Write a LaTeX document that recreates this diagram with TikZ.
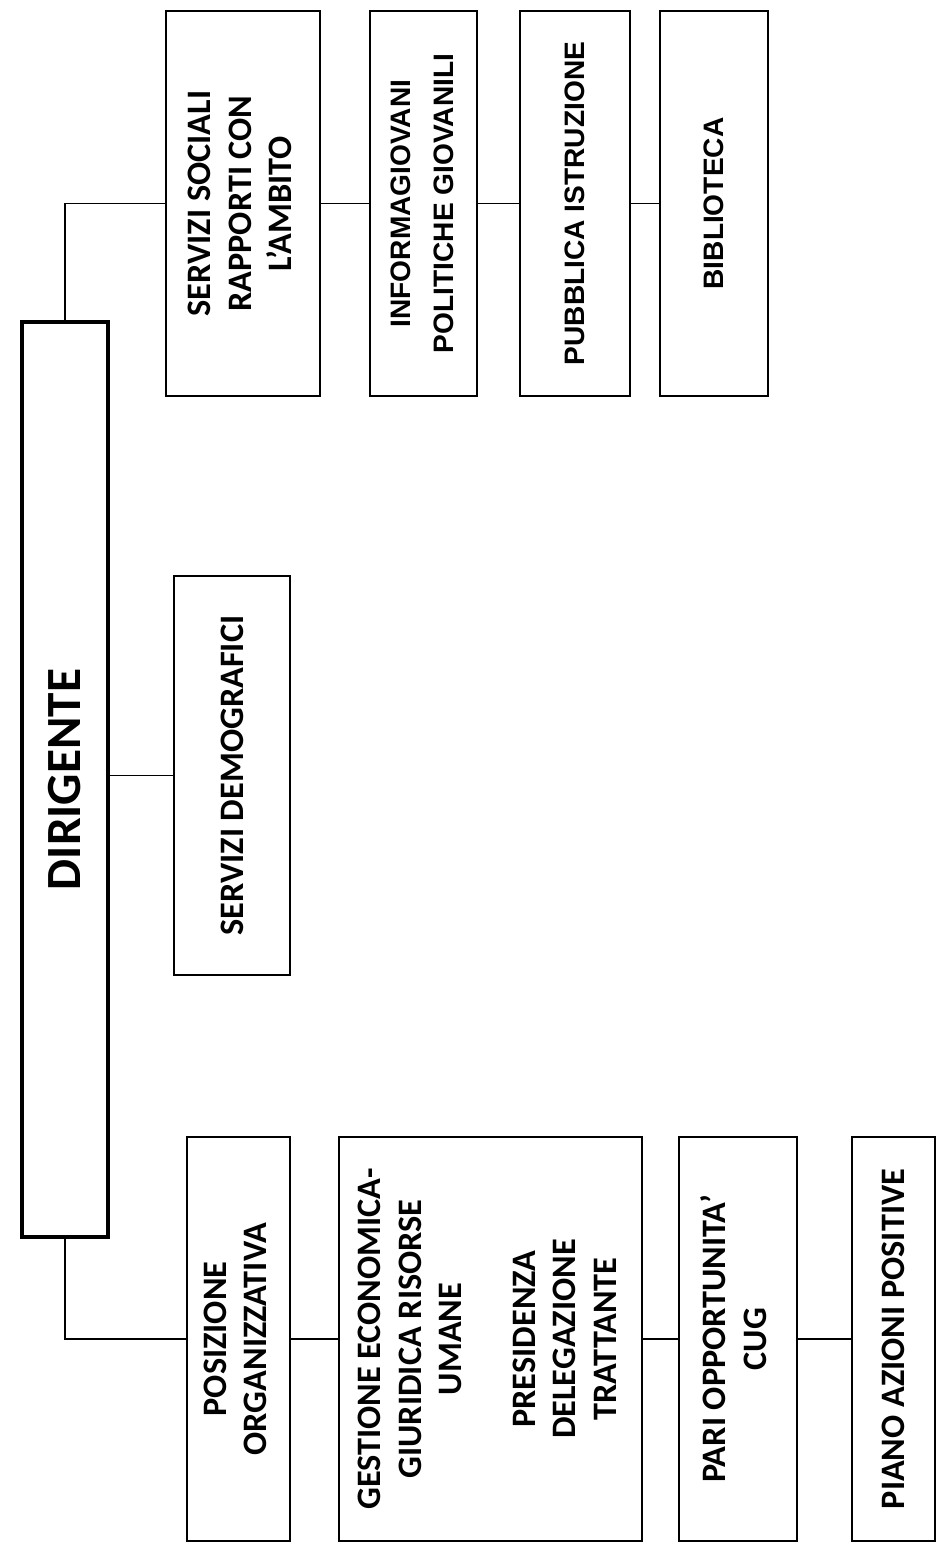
\documentclass[tikz,border=0pt]{standalone}
\usepackage{fontspec}
\setmainfont{Carlito}
\newfontfamily\arialfont{Liberation Sans}
\usepackage{graphicx}

\begin{document}
\begin{tikzpicture}[x=0.02cm, y=-0.02cm,
boxnode/.style={rectangle, draw=black, line width=1pt, inner sep=0pt, font=\fontsize{19.5}{23}\selectfont\bfseries},
arialnode/.style={boxnode, font=\arialfont\fontsize{16}{24}\selectfont\bfseries},
thickboxnode/.style={rectangle, draw=black, line width=2.5pt, inner sep=0pt, font=\fontsize{28}{32}\selectfont\bfseries},
link/.style={draw=black, line width=0.8pt},
]
\useasboundingbox (0,0) rectangle (938,1546);

\node[thickboxnode, minimum width=1.72cm, minimum height=18.3cm] (dirigente) at (65,779.5) {\rotatebox{90}{DIRIGENTE}};

\node[boxnode, minimum width=3.08cm, minimum height=7.7cm] (servizisociali) at (243,203.5) {\rotatebox{90}{\begin{tabular}{@{}c@{}}SERVIZI SOCIALI\\RAPPORTI CON\\L’AMBITO\end{tabular}}};
\node[arialnode, minimum width=2.14cm, minimum height=7.7cm] (informagiovani) at (423.5,203.5) {\rotatebox{90}{\begin{tabular}{@{}c@{}}INFORMAGIOVANI\\POLITICHE GIOVANILI\end{tabular}}};
\node[arialnode, minimum width=2.2cm, minimum height=7.7cm] (istruzione) at (575,203.5) {\rotatebox{90}{PUBBLICA ISTRUZIONE}};
\node[arialnode, minimum width=2.16cm, minimum height=7.7cm] (biblioteca) at (714,203.5) {\rotatebox{90}{BIBLIOTECA}};

\node[boxnode, minimum width=2.32cm, minimum height=7.98cm] (demografici) at (232,775.5) {\rotatebox{90}{SERVIZI DEMOGRAFICI}};

\node[boxnode, minimum width=2.06cm, minimum height=8.08cm] (posizione) at (238.5,1339) {\rotatebox{90}{\begin{tabular}{@{}c@{}}POSIZIONE\\ORGANIZZATIVA\end{tabular}}};
\node[boxnode, minimum width=6.06cm, minimum height=8.08cm] (gestione) at (490.5,1339) {\rotatebox{90}{\begin{tabular}{@{}c@{}}GESTIONE ECONOMICA-\\GIURIDICA RISORSE\\UMANE\\[19pt]PRESIDENZA\\DELEGAZIONE\\TRATTANTE\end{tabular}}};
\node[boxnode, minimum width=2.36cm, minimum height=8.08cm] (pari) at (738,1339) {\rotatebox{90}{\begin{tabular}{@{}c@{}}PARI OPPORTUNITA’\\CUG\end{tabular}}};
\node[boxnode, minimum width=1.66cm, minimum height=8.08cm] (piano) at (893.5,1339) {\rotatebox{90}{PIANO AZIONI POSITIVE}};

%Lines
\draw[link] (dirigente.north) |- (servizisociali.west);
\draw[link] (servizisociali.east) -- (informagiovani.west);
\draw[link] (informagiovani.east) -- (istruzione.west);
\draw[link] (istruzione.east) -- (biblioteca.west);
\draw[link] (dirigente.east |- demografici.west) -- (demografici.west);
\draw[link] (dirigente.south) |- (posizione.west);
\draw[link] (posizione.east) -- (gestione.west);
\draw[link] (gestione.east) -- (pari.west);
\draw[link] (pari.east) -- (piano.west);
\end{tikzpicture}
\end{document}
